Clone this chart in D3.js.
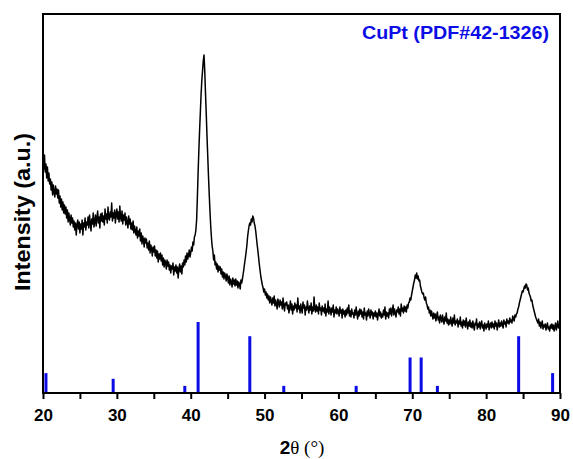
<!DOCTYPE html>
<html>
<head>
<meta charset="utf-8">
<script src="https://cdn.jsdelivr.net/npm/d3@7/dist/d3.min.js"></script>
<style>
  body { margin: 0; background: #fff; }
</style>
</head>
<body>
<div id="chart"></div>
<script>
// 2theta scan: 20 to 90 deg, 0.1 deg step
const scanStart = 20;
const scanStep = 0.1;
const intensity = [
  232, 224, 238, 221, 229, 215, 226, 212, 220, 209,
  214, 203, 211, 198, 208, 201, 196, 207, 199, 204,
  195, 203, 190, 197, 186, 194, 183, 191, 180, 188,
  179, 186, 175, 183, 171, 180, 174, 168, 178, 170,
  175, 166, 172, 163, 170, 158, 168, 173, 164, 171,
  160, 169, 164, 173, 158, 170, 166, 175, 163, 171,
  168, 176, 165, 178, 170, 162, 174, 169, 180, 166,
  171, 178, 167, 175, 182, 170, 176, 165, 179, 172,
  180, 171, 177, 168, 184, 174, 179, 170, 186, 175,
  173, 181, 176, 190, 172, 180, 175, 183, 170, 179,
  184, 174, 181, 171, 187, 176, 172, 182, 169, 178,
  173, 180, 168, 176, 171, 165, 177, 169, 174, 164,
  170, 163, 172, 160, 167, 162, 158, 166, 155, 162,
  157, 164, 152, 160, 149, 157, 153, 146, 155, 150,
  154, 145, 150, 143, 152, 140, 148, 144, 137, 146,
  141, 147, 137, 143, 135, 142, 131, 139, 134, 140,
  132, 138, 128, 135, 126, 133, 130, 124, 133, 127,
  131, 123, 128, 120, 127, 124, 130, 118, 126, 122,
  128, 120, 126, 115, 124, 129, 121, 127, 119, 130,
  126, 133, 128, 137, 131, 140, 134, 138, 143, 136,
  140, 146, 142, 151, 148, 156, 158, 163, 173, 195,
  220, 242, 262, 280, 298, 312, 322, 332, 338, 322,
  300, 280, 258, 238, 218, 200, 183, 168, 156, 147,
  142, 133, 138, 128, 131, 124, 129, 121, 127, 123,
  126, 119, 124, 116, 121, 114, 120, 117, 112, 119,
  115, 110, 117, 108, 114, 111, 106, 115, 109, 113,
  107, 114, 108, 112, 105, 111, 109, 104, 113, 110,
  114, 119, 124, 130, 135, 141, 147, 156, 162, 167,
  170, 168, 174, 171, 177, 175, 170, 167, 162, 155,
  148, 142, 135, 128, 122, 116, 112, 108, 105, 101,
  104, 98, 101, 95, 99, 93, 97, 90, 96, 92,
  88, 95, 90, 97, 87, 93, 89, 84, 94, 90,
  86, 93, 88, 91, 84, 95, 87, 82, 90, 88,
  91, 84, 88, 80, 86, 92, 83, 89, 79, 87,
  83, 90, 85, 88, 81, 95, 84, 87, 80, 89,
  84, 80, 91, 85, 88, 78, 86, 83, 92, 85,
  80, 87, 83, 90, 79, 86, 82, 96, 84, 81,
  88, 82, 86, 79, 90, 83, 85, 78, 87, 82,
  85, 80, 89, 77, 84, 81, 92, 79, 86, 83,
  78, 85, 81, 88, 76, 83, 80, 86, 79, 84,
  81, 77, 86, 80, 83, 75, 84, 79, 82, 76,
  83, 78, 85, 80, 88, 77, 82, 76, 84, 79,
  80, 75, 83, 78, 86, 79, 74, 82, 77, 84,
  79, 83, 76, 81, 74, 85, 78, 80, 73, 82,
  77, 84, 79, 75, 83, 78, 81, 74, 80, 77,
  82, 76, 80, 73, 79, 84, 77, 81, 75, 79,
  76, 83, 78, 86, 74, 81, 77, 80, 75, 84,
  79, 85, 77, 82, 88, 78, 84, 80, 76, 83,
  81, 86, 79, 84, 77, 89, 82, 85, 80, 87,
  82, 86, 81, 88, 85, 90, 91, 95, 93, 98,
  102, 106, 110, 113, 118, 115, 120, 114, 117, 112,
  113, 107, 104, 101, 99, 100, 95, 93, 96, 90,
  88, 84, 86, 80, 83, 77, 82, 78, 74, 80,
  75, 79, 72, 77, 81, 73, 76, 70, 78, 74,
  71, 78, 73, 69, 76, 72, 80, 70, 74, 68,
  73, 69, 76, 71, 67, 75, 70, 78, 68, 72,
  70, 74, 66, 72, 69, 76, 67, 71, 65, 73,
  68, 72, 66, 75, 69, 64, 71, 67, 73, 66,
  70, 65, 72, 67, 63, 70, 68, 74, 64, 69,
  66, 71, 64, 69, 72, 65, 68, 62, 70, 67,
  64, 69, 66, 72, 63, 68, 70, 65, 71, 66,
  69, 64, 72, 67, 70, 63, 68, 73, 66, 70,
  67, 72, 68, 65, 73, 69, 71, 66, 74, 70,
  72, 69, 75, 71, 73, 70, 77, 74, 72, 78,
  76, 79, 80, 84, 86, 90, 93, 96, 99, 102,
  101, 104, 107, 105, 109, 108, 103, 105, 100, 98,
  96, 92, 93, 88, 85, 82, 79, 76, 74, 72,
  70, 74, 67, 71, 65, 69, 72, 64, 68, 66,
  69, 63, 67, 70, 64, 66, 62, 68, 65, 69,
  64, 68, 62, 66, 70, 63, 67, 72, 65, 69,
  68
];

// CuPt reference pattern (PDF#42-1326), relative intensity
const refAngles = [20.4, 29.5, 39.2, 41.0, 48.0, 52.6, 62.4, 69.7, 71.2, 73.4, 84.4, 89.0];
const refIntensity = [28, 20, 10, 100, 80, 10, 10, 50, 50, 10, 80, 28];

const xTicks = [20, 30, 40, 50, 60, 70, 80, 90];
const xMinorTicks = [25, 35, 45, 55, 65, 75, 85];

const width = 573, height = 459;
const margin = {top: 14, right: 13, bottom: 66, left: 43};
const blue = '#0c0ce6';

const svg = d3.select('#chart')
    .append('svg')
    .attr('width', width)
    .attr('height', height);

const x = d3.scaleLinear()
    .domain([20, 90])
    .range([margin.left, width - margin.right]);

const y = d3.scaleLinear()
    .domain([0, 379])
    .range([height - margin.bottom, margin.top]);

const yRef = d3.scaleLinear()
    .domain([0, 100])
    .range([height - margin.bottom, height - margin.bottom - 71]);

const scan = intensity.map((v, i) => ({angle: scanStart + i * scanStep, value: v}));

// Reference sticks
svg.append('g')
    .selectAll('rect')
    .data(refAngles.map((a, i) => ({angle: a, value: refIntensity[i]})))
    .enter()
    .append('rect')
    .attr('x', d => x(d.angle) - 1.5)
    .attr('y', d => yRef(d.value))
    .attr('width', 3)
    .attr('height', d => yRef(0) - yRef(d.value))
    .attr('fill', blue);

// XRD pattern
svg.append('path')
    .datum(scan)
    .attr('fill', 'none')
    .attr('stroke', '#000')
    .attr('stroke-width', 1.5)
    .attr('stroke-linejoin', 'round')
    .attr('d', d3.line().x(d => x(d.angle)).y(d => y(d.value)));

// X axis
svg.append('g')
    .attr('transform', `translate(0,${height - margin.bottom})`)
    .call(d3.axisBottom(x).tickValues(xTicks).tickSize(6).tickPadding(10).tickFormat(d3.format('d')))
    .call(g => g.select('.domain').remove())
    .call(g => g.selectAll('line').attr('stroke', '#000').attr('stroke-width', 2))
    .call(g => g.selectAll('text')
        .attr('font-family', 'Liberation Sans, Arial, sans-serif')
        .attr('font-weight', 'bold')
        .attr('font-size', '17px')
        .attr('fill', '#000'));

svg.append('g')
    .attr('transform', `translate(0,${height - margin.bottom})`)
    .call(d3.axisBottom(x).tickValues(xMinorTicks).tickSize(6).tickFormat(''))
    .call(g => g.select('.domain').remove())
    .call(g => g.selectAll('line').attr('stroke', '#000').attr('stroke-width', 2));

// Frame
svg.append('rect')
    .attr('x', margin.left)
    .attr('y', margin.top)
    .attr('width', width - margin.left - margin.right)
    .attr('height', height - margin.top - margin.bottom)
    .attr('fill', 'none')
    .attr('stroke', '#000')
    .attr('stroke-width', 2);

// X label
const xLabel = svg.append('text')
    .attr('x', 302)
    .attr('y', 454)
    .attr('text-anchor', 'middle')
    .attr('font-size', '19px')
    .attr('fill', '#000');
xLabel.append('tspan')
    .attr('font-family', 'Liberation Sans, Arial, sans-serif')
    .attr('font-weight', 'bold')
    .text('2');
xLabel.append('tspan')
    .attr('font-family', 'Liberation Serif, Times New Roman, serif')
    .text('\u03b8 (\u00b0)');

// Y label
svg.append('text')
    .attr('transform', 'rotate(-90)')
    .attr('x', -212)
    .attr('y', 30)
    .attr('text-anchor', 'middle')
    .attr('font-family', 'Liberation Sans, Arial, sans-serif')
    .attr('font-weight', 'bold')
    .attr('font-size', '22px')
    .attr('textLength', 158)
    .attr('lengthAdjust', 'spacingAndGlyphs')
    .attr('fill', '#000')
    .text('Intensity (a.u.)');

// Legend
svg.append('text')
    .attr('x', 549)
    .attr('y', 39)
    .attr('text-anchor', 'end')
    .attr('font-family', 'Liberation Sans, Arial, sans-serif')
    .attr('font-weight', 'bold')
    .attr('font-size', '18px')
    .attr('textLength', 187)
    .attr('lengthAdjust', 'spacingAndGlyphs')
    .attr('fill', blue)
    .text('CuPt (PDF#42-1326)');
</script>
</body>
</html>
